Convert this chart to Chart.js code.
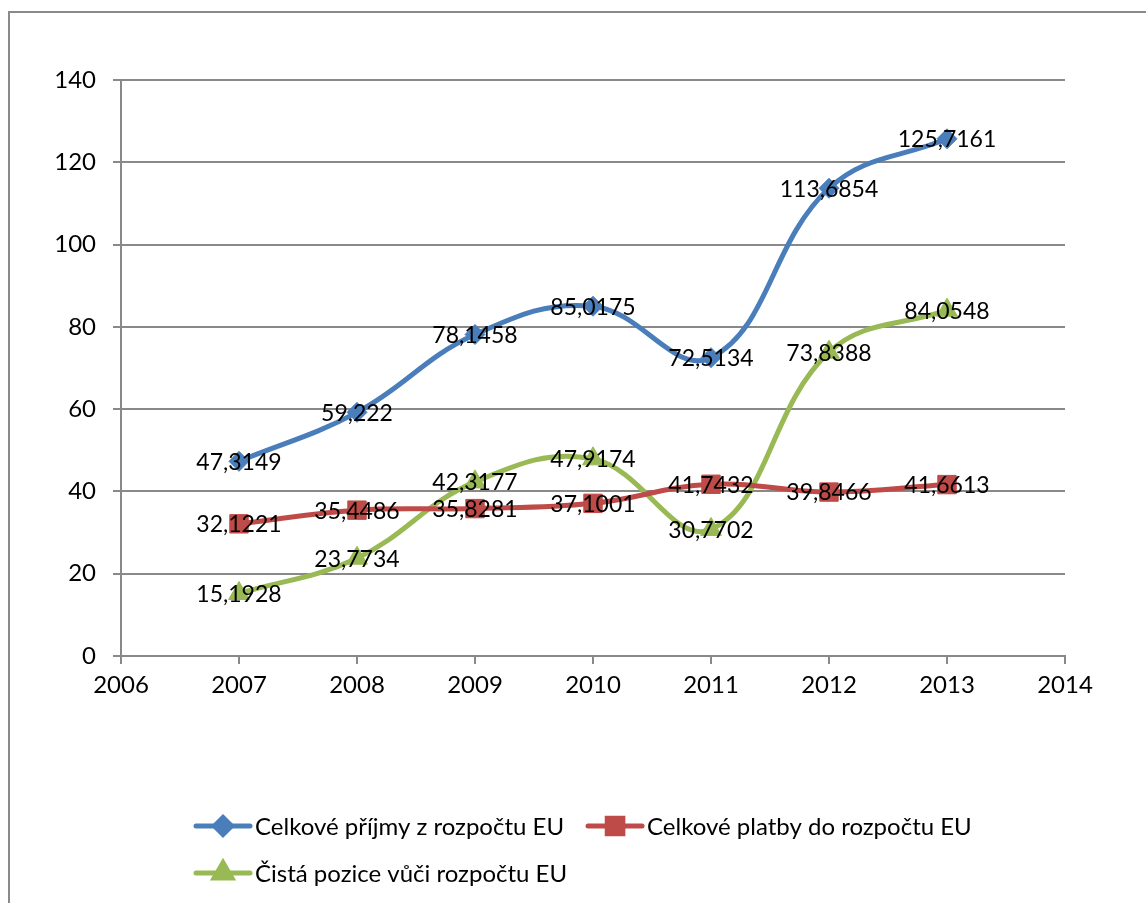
<!DOCTYPE html>
<html>
<head>
<meta charset="utf-8">
<script src="https://cdn.jsdelivr.net/npm/chart.js@4/dist/chart.umd.min.js"></script>
<style>
  html, body { margin: 0; padding: 0; background: #fff; overflow: hidden; }
  #frame { position: absolute; left: 8px; top: 11px; width: 1300px; height: 1100px; border: 2px solid #8a8a8a; }
  #wrap { position: absolute; left: 0; top: 0; width: 1146px; height: 903px; }
</style>
</head>
<body>
<div id="frame"></div>
<div id="wrap"><canvas id="myChart"></canvas></div>
<script>
// data
const years = [2007, 2008, 2009, 2010, 2011, 2012, 2013];
const prijmy = [47.3149, 59.222, 78.1458, 85.0175, 72.5134, 113.6854, 125.7161];
const platby = [32.1221, 35.4486, 35.8281, 37.1001, 41.7432, 39.8466, 41.6613];
const pozice = [15.1928, 23.7734, 42.3177, 47.9174, 30.7702, 73.8388, 84.0548];
const seriesNames = ['Celkové příjmy z rozpočtu EU', 'Celkové platby do rozpočtu EU', 'Čistá pozice vůči rozpočtu EU'];
const xRange = [2006, 2014];
const yRange = [0, 140];
const yStep = 20;

const FONT = 'Lato';
const GRID = '#898989';

function points(values) {
    return values.map((v, i) => ({x: years[i], y: v}));
}

function fmt(v) {
    return String(v).replace('.', ',');
}

const styles = [
    {color: '#4a7ebb', pointStyle: 'rectRot', radius: 10},
    {color: '#be4b48', pointStyle: 'rect', radius: 13},
    {color: '#98b954', pointStyle: 'triangle', radius: 12}
];

const valueLabels = {
    id: 'valueLabels',
    afterDatasetsDraw(chart) {
        var ctx = chart.ctx;
        ctx.save();
        ctx.font = '23px ' + FONT;
        ctx.fillStyle = '#000';
        ctx.textAlign = 'center';
        ctx.textBaseline = 'middle';
        chart.data.datasets.forEach((ds, i) => {
            var meta = chart.getDatasetMeta(i);
            meta.data.forEach((pt, j) => {
                ctx.fillText(fmt(ds.data[j].y), pt.x, pt.y + 1);
            });
        });
        ctx.restore();
    }
};

const bottomLegend = {
    id: 'bottomLegend',
    afterDraw(chart) {
        var ctx = chart.ctx;
        ctx.save();
        ctx.font = '24px ' + FONT;
        ctx.textBaseline = 'middle';
        ctx.fillStyle = '#000';
        var rows = [[0, 1], [2]];
        var rowY = [826, 873];
        rows.forEach((row, r) => {
            var x = 196;
            row.forEach(i => {
                var st = styles[i];
                var y = rowY[r];
                ctx.strokeStyle = st.color;
                ctx.lineWidth = 5;
                ctx.lineCap = 'round';
                ctx.beginPath();
                ctx.moveTo(x, y);
                ctx.lineTo(x + 54, y);
                ctx.stroke();
                ctx.fillStyle = st.color;
                Chart.helpers.drawPoint(ctx, {pointStyle: st.pointStyle, radius: st.radius * 0.85, rotation: 0, borderWidth: 1}, x + 27, y);
                ctx.fillStyle = '#000';
                ctx.fillText(seriesNames[i], x + 59, y + 1);
                x += 59 + ctx.measureText(seriesNames[i]).width + 24;
            });
        });
        ctx.restore();
    }
};

var ctx = document.getElementById('myChart').getContext('2d');
var myChart = new Chart(ctx, {
    type: 'line',
    data: {
        datasets: [prijmy, platby, pozice].map((vals, i) => ({
            label: seriesNames[i],
            data: points(vals),
            borderColor: styles[i].color,
            backgroundColor: styles[i].color,
            pointBackgroundColor: styles[i].color,
            pointBorderColor: styles[i].color,
            pointStyle: styles[i].pointStyle,
            pointRadius: styles[i].radius,
            pointBorderWidth: 1,
            borderWidth: 5,
            tension: 0.4,
            clip: false
        }))
    },
    options: {
        responsive: true,
        maintainAspectRatio: false,
        animation: false,
        layout: {padding: {top: 80, left: 0, right: 81, bottom: 197}},
        plugins: {
            legend: {display: false},
            tooltip: {enabled: false}
        },
        scales: {
            x: {
                type: 'linear',
                min: xRange[0],
                max: xRange[1],
                afterFit(scale) { scale.height = 50; },
                ticks: {
                    stepSize: 1,
                    color: '#000',
                    font: {family: FONT, size: 24},
                    padding: 7,
                    maxRotation: 0,
                    callback: v => String(v)
                },
                grid: {drawOnChartArea: false, tickLength: 8, color: GRID, lineWidth: 2},
                border: {display: true, color: GRID, width: 2}
            },
            y: {
                min: yRange[0],
                max: yRange[1],
                afterFit(scale) { scale.width = 121; },
                ticks: {
                    stepSize: yStep,
                    color: '#000',
                    font: {family: FONT, size: 24},
                    padding: 17
                },
                grid: {color: GRID, lineWidth: 2, tickLength: 8},
                border: {display: true, color: GRID, width: 2}
            }
        }
    },
    plugins: [valueLabels, bottomLegend]
});
</script>
</body>
</html>
